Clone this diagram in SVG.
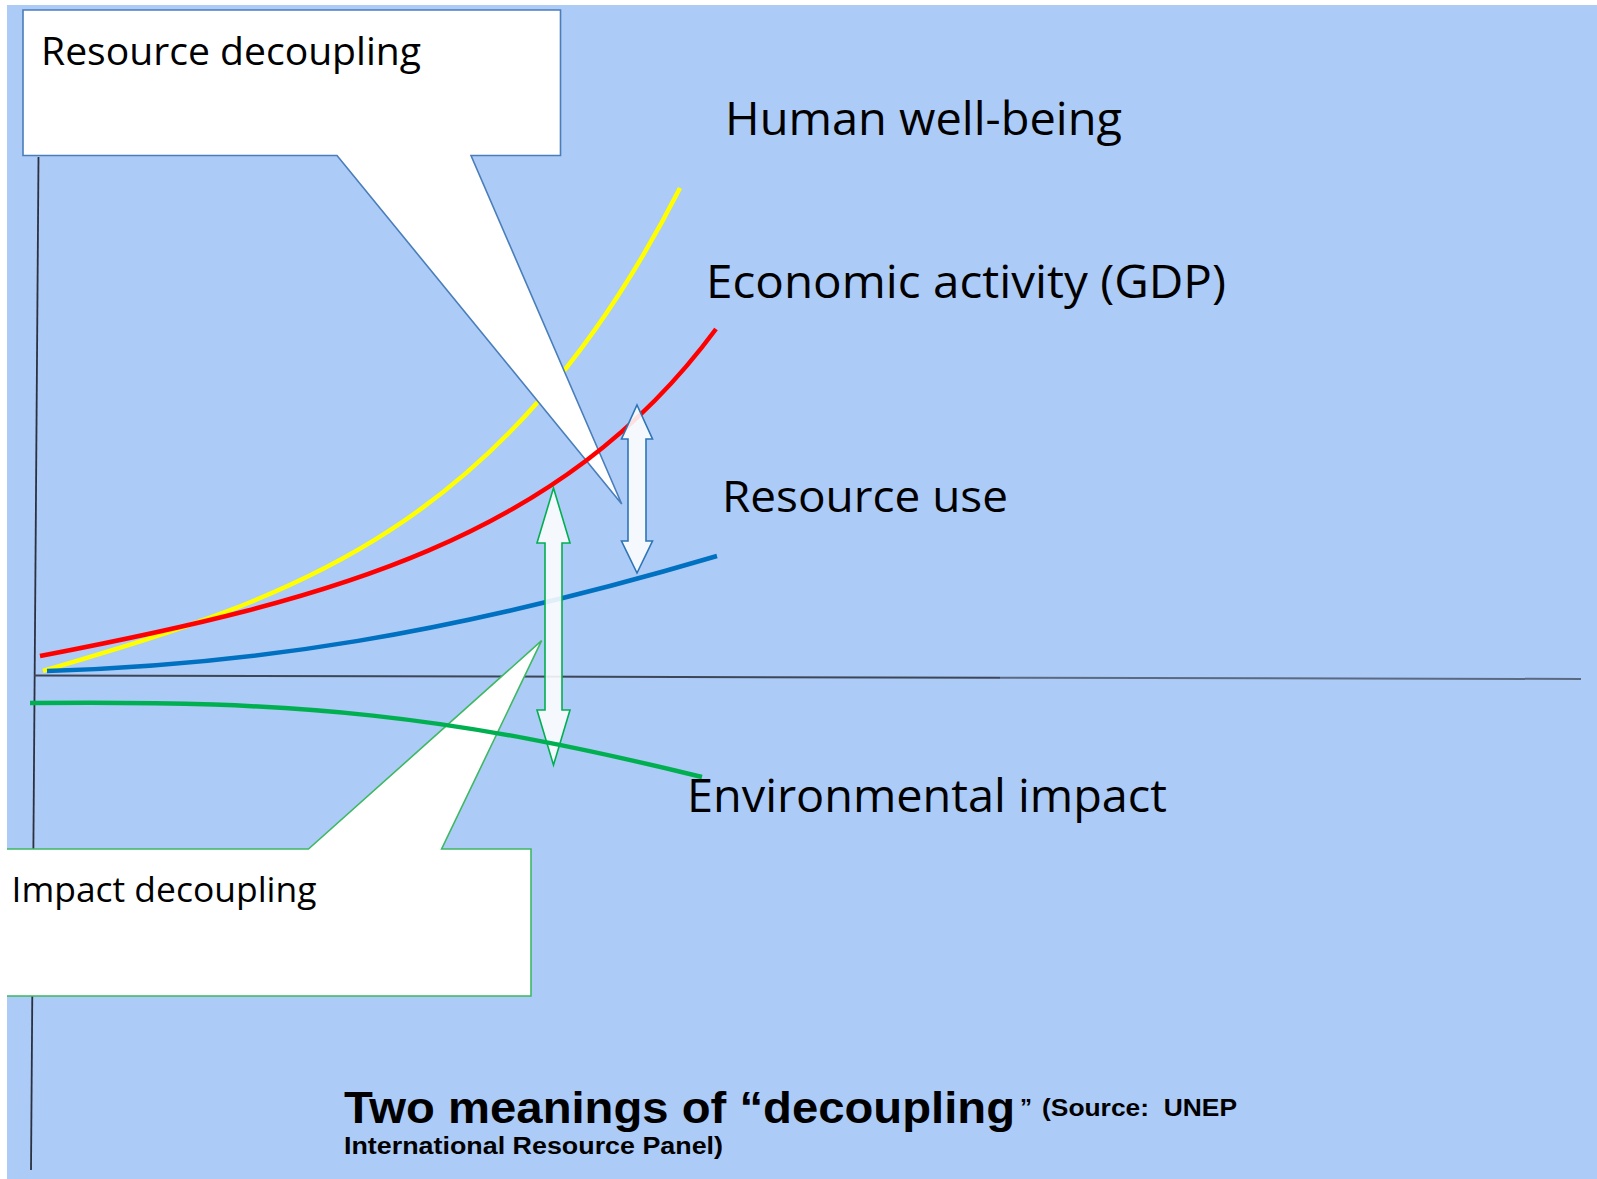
<svg xmlns="http://www.w3.org/2000/svg" width="1597" height="1179" viewBox="0 0 1597 1179">
<style>
.lbl{font-family:"Open Sans","Noto Sans",sans-serif;fill:#000;}
.ttl{font-family:"Liberation Sans",Arial,sans-serif;font-weight:bold;fill:#000;white-space:pre;}
.curve{fill:none;stroke-width:4.5;stroke-linecap:butt;}
.callout{fill:#fff;stroke-width:1.6;stroke-linejoin:miter;}
.dbl{fill:#fff;fill-opacity:0.88;stroke-width:1.6;stroke-linejoin:miter;}
</style>
<rect id="background" x="0" y="0" width="1597" height="1179" fill="#ACCBF7"/>
<g id="axes">
  <line x1="38.5" y1="157" x2="31" y2="1170" stroke="#2b3140" stroke-width="1.8"/>
  <line x1="34" y1="675.5" x2="1000" y2="677.7" stroke="#3d4656" stroke-width="2"/>
  <line x1="1000" y1="677.7" x2="1581" y2="679" stroke="#5b6a80" stroke-width="2"/>
</g>
<g id="curve-wellbeing">
  <path class="curve" d="M43,671 C280,600 500,540 680,188" stroke="#FFFF00"/>
</g>
<g id="callout-resource">
  <path class="callout" d="M23,10 H560.5 V155.5 H471 L621.7,504 L337,155.5 H23 Z" stroke="#4A7EBB"/>
  <text class="lbl" x="41" y="65" font-size="39" textLength="380" lengthAdjust="spacingAndGlyphs">Resource decoupling</text>
</g>
<g id="callout-impact">
  <path class="callout" d="M-5,849 H308.5 L541.6,640.7 L441.6,849 H531 V996 H-5 Z" stroke="#3EB863"/>
  <text class="lbl" x="11.5" y="902" font-size="35" textLength="305" lengthAdjust="spacingAndGlyphs">Impact decoupling</text>
</g>
<g id="curve-gdp">
  <path class="curve" d="M40,656 C330,600 560,540 716,329" stroke="#FF0000"/>
</g>
<g id="curve-resource">
  <path class="curve" d="M47,671 C250,665 450,635 717,556" stroke="#0070C0"/>
</g>
<g id="connectors">
  <path id="arrow-resource" class="dbl" stroke="#2E75B6" d="M637,405 L652.5,439 H646 V541 H652.5 L637,573 L621.5,541 H628 V439 H621.5 Z"/>
  <path id="arrow-impact" class="dbl" stroke="#00B050" d="M553.5,488 L570,543 H562 V710 H570 L553.5,765 L537,710 H545 V543 H537 Z"/>
</g>
<g id="curve-impact">
  <path class="curve" d="M30,703 C300,700 450,715 702,777" stroke="#00B050"/>
</g>
<g id="labels">
  <text class="lbl" x="725" y="135" font-size="46" textLength="397" lengthAdjust="spacingAndGlyphs">Human well-being</text>
  <text class="lbl" x="706" y="298" font-size="45" textLength="520" lengthAdjust="spacingAndGlyphs">Economic activity (GDP)</text>
  <text class="lbl" x="722" y="512" font-size="44" textLength="286" lengthAdjust="spacingAndGlyphs">Resource use</text>
  <text class="lbl" x="687" y="812" font-size="45" textLength="480" lengthAdjust="spacingAndGlyphs">Environmental impact</text>
</g>
<g id="title">
  <text class="ttl" x="344" y="1123" font-size="44" textLength="671" lengthAdjust="spacingAndGlyphs">Two meanings of “decoupling</text>
  <text class="ttl" x="1020" y="1116" font-size="24">”</text>
  <text class="ttl" x="1042" y="1116" font-size="23" textLength="195" lengthAdjust="spacingAndGlyphs">(Source:  UNEP</text>
  <text class="ttl" x="344" y="1154" font-size="23" textLength="379" lengthAdjust="spacingAndGlyphs">International Resource Panel)</text>
</g>
<g id="margins">
  <rect x="0" y="0" width="1597" height="5" fill="#fff"/>
  <rect x="0" y="0" width="7" height="1179" fill="#fff"/>
</g>
</svg>
